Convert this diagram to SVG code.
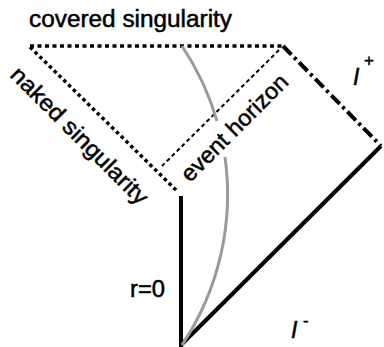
<svg xmlns="http://www.w3.org/2000/svg" width="384" height="347" viewBox="0 0 384 347">
<style>
text{font-family:"Liberation Sans",Arial,sans-serif;fill:#000;stroke:#000;stroke-width:0.5}
.lbl{font-size:23px}
.ital{font-style:italic}
.dot{fill:none;stroke:#000;stroke-width:3.5}
.solid{fill:none;stroke:#000;stroke-width:4}
.world{fill:none;stroke:#9a9a9a;stroke-width:3}
</style>
<rect width="384" height="347" fill="#fff"/>
<g id="connectors">
<line id="covered-sing" class="dot" x1="30" y1="46" x2="283" y2="46" stroke-dasharray="4 3.5"/>
<line id="naked-sing" class="dot" x1="30" y1="47" x2="178" y2="192" stroke-dasharray="3.5 3.2"/>
<line id="horizon" x1="279" y1="50" x2="162" y2="166" fill="none" stroke="#000" stroke-width="2" stroke-dasharray="4 3"/>
<line id="scri-plus" class="solid" x1="283" y1="46" x2="381" y2="146" stroke-dasharray="12 4 3 4"/>
<line id="scri-minus" class="solid" x1="381" y1="146" x2="181" y2="345"/>
<line id="r0" class="solid" x1="181" y1="196" x2="181" y2="347"/>
<path id="worldline-a" class="world" d="M182,46 A271,271 0 0 1 217,121"/>
<path id="worldline-b" class="world" d="M225,157 A271,271 0 0 1 182,345"/>
</g>
<g id="label-covered"><text class="lbl" x="29" y="27" textLength="203" lengthAdjust="spacingAndGlyphs">covered singularity</text></g>
<g id="label-naked"><text class="lbl" transform="translate(9,76) rotate(45)" textLength="184" lengthAdjust="spacingAndGlyphs">naked singularity</text></g>
<g id="label-horizon"><text class="lbl" transform="translate(190,183) rotate(-45)" textLength="141" lengthAdjust="spacingAndGlyphs">event horizon</text></g>
<g id="label-r0"><text class="lbl" x="130" y="297" textLength="35" lengthAdjust="spacingAndGlyphs">r=0</text></g>
<g id="label-iplus"><text class="lbl ital" x="353" y="85" font-size="22">I</text><text x="364" y="66" font-size="17" stroke-width="0.8">+</text></g>
<g id="label-iminus"><text class="lbl ital" x="291" y="338" font-size="22">I</text><text x="303" y="326" font-size="17" stroke-width="0.8">-</text></g>
</svg>
